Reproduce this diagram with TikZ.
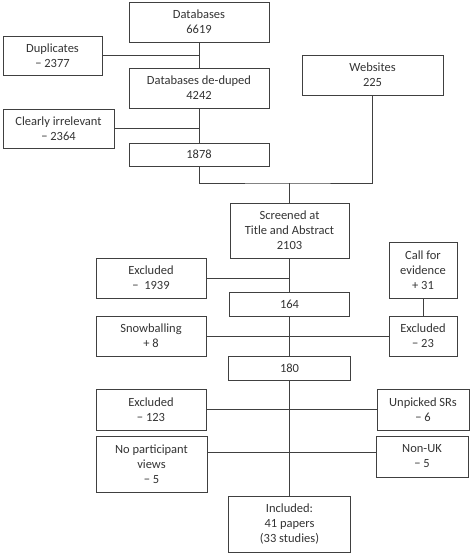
\documentclass[tikz,border=0pt]{standalone}
\usepackage{fontspec}
\setmainfont{Carlito}
\usetikzlibrary{calc}
\tikzset{
	box/.style={draw=black!75, line width=0.8pt, align=center, inner sep=0pt, text=black!80,
		font=\fontsize{12.5}{15}\selectfont},
	link/.style={draw=black!75, line width=0.8pt}
}

\begin{document}
\begin{tikzpicture}[x=1pt, y=-1pt]
			%%%%% START %%%%%
			\useasboundingbox (0, 0) rectangle (472, 554);
			
			\node[box, minimum width=140, minimum height=40] (db) at (199, 22) {Databases\\6619};
			\node[box, minimum width=99, minimum height=39] (dup) at (52.5, 55.5) {Duplicates\\−~2377};
			\node[box, minimum width=140, minimum height=40] (dedup) at (199, 88) {Databases de-duped\\4242};
			\node[box, minimum width=111, minimum height=39] (irr) at (58.5, 128.5) {Clearly irrelevant\\−~2364};
			\node[box, minimum width=140, minimum height=23] (n1878) at (199, 154.5) {1878};
			\node[box, minimum width=141, minimum height=40] (web) at (372.5, 75) {Websites\\225};
			
			\coordinate (merge) at (289.5, 183);
			
			\node[box, minimum width=119, minimum height=55] (screen) at (289.5, 230.5) {Screened at\\Title and Abstract\\2103};
			\node[box, minimum width=110, minimum height=40] (exca) at (151, 278) {Excluded\\−~~1939};
			\node[box, minimum width=120, minimum height=24] (n164) at (289.5, 304) {164};
			\node[box, minimum width=110, minimum height=40] (snow) at (151, 336) {Snowballing\\+~8};
			\node[box, minimum width=68, minimum height=56] (call) at (423, 270) {Call for\\evidence\\+~31};
			\node[box, minimum width=68, minimum height=40] (excb) at (423, 336) {Excluded\\−~23};
			\node[box, minimum width=122, minimum height=24] (n180) at (289.5, 368) {180};
			
			\node[box, minimum width=110, minimum height=41] (excc) at (151, 409.5) {Excluded\\−~123};
			\node[box, minimum width=92, minimum height=41] (unp) at (423, 409.5) {Unpicked SRs\\−~6};
			\node[box, minimum width=111, minimum height=56] (nopart) at (151.5, 464) {No participant\\views\\−~5};
			\node[box, minimum width=92, minimum height=41] (nonuk) at (422, 456.5) {Non-UK\\−~5};
			\node[box, minimum width=122, minimum height=56] (incl) at (289.5, 524) {Included:\\41 papers\\(33 studies)};
			
			% top part
			\draw[link] (db) -- (dedup);
			\draw[link] (dup.east) -- (dup.east -| db.south);
			\draw[link] (dedup) -- (n1878);
			\draw[link] (irr.east) -- (irr.east -| dedup.south);
			\draw[link] (n1878.south) |- (merge) -| (web.south);
			\draw[link] (merge) -- (screen.north);
			
			% middle part
			\draw[link] (screen) -- (n164);
			\draw[link] (exca.east) -- (exca.east -| screen.south);
			\draw[link] (n164) -- (n180);
			\draw[link] (snow.east) -- (excb.west);
			\draw[link] (call) -- (excb);
			
			% bottom part
			\draw[link] (n180) -- (incl);
			\draw[link] (excc.east) -- (unp.west);
			\draw[link] ($(nonuk.north west)!0.41!(nonuk.south west)$) coordinate (cut) -- (cut -| nopart.east);
			
			%%%%% END %%%%%
\end{tikzpicture}
\end{document}
